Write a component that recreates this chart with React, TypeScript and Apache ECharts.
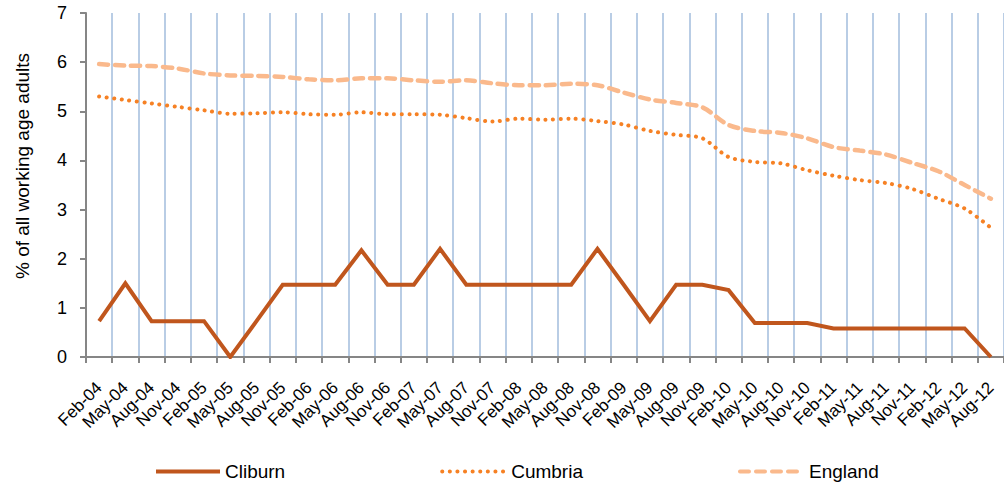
import React, { useEffect, useRef } from "react";
import * as echarts from "echarts";

const categories = [
  "Feb-04", "May-04", "Aug-04", "Nov-04",
  "Feb-05", "May-05", "Aug-05", "Nov-05",
  "Feb-06", "May-06", "Aug-06", "Nov-06",
  "Feb-07", "May-07", "Aug-07", "Nov-07",
  "Feb-08", "May-08", "Aug-08", "Nov-08",
  "Feb-09", "May-09", "Aug-09", "Nov-09",
  "Feb-10", "May-10", "Aug-10", "Nov-10",
  "Feb-11", "May-11", "Aug-11", "Nov-11",
  "Feb-12", "May-12", "Aug-12",
];

const cliburn = [
  0.73, 1.5, 0.73, 0.73,
  0.73, 0, 0.73, 1.47,
  1.47, 1.47, 2.17, 1.47,
  1.47, 2.2, 1.47, 1.47,
  1.47, 1.47, 1.47, 2.2,
  1.47, 0.73, 1.47, 1.47,
  1.36, 0.69, 0.69, 0.69,
  0.58, 0.58, 0.58, 0.58,
  0.58, 0.58, 0,
];

const cumbria = [
  5.3, 5.23, 5.16, 5.09,
  5.02, 4.95, 4.96, 4.98,
  4.94, 4.93, 4.98, 4.94,
  4.94, 4.93, 4.86, 4.79,
  4.85, 4.83, 4.85, 4.8,
  4.73, 4.6, 4.52, 4.45,
  4.07, 3.97, 3.94, 3.8,
  3.69, 3.6, 3.54, 3.42,
  3.22, 3.02, 2.63,
];

const england = [
  5.96, 5.93, 5.92, 5.87,
  5.77, 5.73, 5.72, 5.7,
  5.65, 5.63, 5.67, 5.67,
  5.63, 5.6, 5.63, 5.57,
  5.53, 5.53, 5.56, 5.53,
  5.38, 5.24, 5.17, 5.08,
  4.72, 4.6, 4.56, 4.45,
  4.27, 4.2, 4.12, 3.95,
  3.78, 3.5, 3.22,
];

const yTicks = [0, 1, 2, 3, 4, 5, 6, 7];
const yTitle = "% of all working age adults";

export default function App() {
  const ref = useRef<HTMLDivElement>(null);
  useEffect(() => {
    if (!ref.current) return;
    const chart = echarts.init(ref.current, null, { renderer: "svg" });
    const font = "'Liberation Sans', Arial, sans-serif";
    chart.setOption({
      animation: false,
      backgroundColor: "#ffffff",
      textStyle: { fontFamily: font },
      grid: { left: 86, top: 13, width: 919, height: 344, containLabel: false },
      legend: {
        left: 149,
        top: 457,
        itemWidth: 64,
        itemHeight: 14,
        itemGap: 155,
        itemStyle: { opacity: 0 },
        lineStyle: { width: 4 },
        textStyle: { fontSize: 19, color: "#000", fontFamily: font },
        data: ["Cliburn", "Cumbria", "England"],
      },
      graphic: [
        {
          type: "text",
          x: 22,
          y: 166,
          rotation: Math.PI / 2,
          style: {
            text: yTitle,
            fontSize: 19,
            fontFamily: font,
            fill: "#000",
            align: "center",
            verticalAlign: "middle",
          },
        },
      ],
      xAxis: {
        type: "category",
        data: categories,
        boundaryGap: true,
        axisLine: { show: true, lineStyle: { color: "#868686", width: 2 } },
        axisTick: { show: true, length: 6, lineStyle: { color: "#868686", width: 2 } },
        splitLine: { show: true, lineStyle: { color: "#B9CDE5", width: 2 } },
        axisLabel: {
          rotate: 45,
          interval: 0,
          margin: 28,
          fontSize: 17,
          color: "#000",
          fontFamily: font,
        },
      },
      yAxis: {
        type: "value",
        min: yTicks[0],
        max: yTicks[yTicks.length - 1],
        interval: 1,
        axisLine: { show: true, lineStyle: { color: "#868686", width: 2 } },
        axisTick: { show: true, length: 6, lineStyle: { color: "#868686", width: 2 } },
        splitLine: { show: false },
        axisLabel: { fontSize: 18, color: "#000", margin: 19, fontFamily: font },
      },
      series: [
        {
          name: "Cliburn",
          type: "line",
          data: cliburn,
          symbol: "none",
          color: "#C0561D",
          lineStyle: { color: "#C0561D", width: 4, join: "miter" },
          z: 5,
        },
        {
          name: "Cumbria",
          type: "line",
          data: cumbria,
          symbol: "none",
          smooth: 0.3,
          color: "#F68124",
          lineStyle: { color: "#F68124", width: 4, type: [0.1, 7.5], cap: "round" },
          z: 4,
        },
        {
          name: "England",
          type: "line",
          data: england,
          symbol: "none",
          smooth: 0.3,
          color: "#FAB98C",
          lineStyle: { color: "#FAB98C", width: 4.5, type: [9, 7], cap: "round" },
          z: 3,
        },
      ],
    });
    return () => chart.dispose();
  }, []);
  return <div ref={ref} style={{ width: 1004, height: 488, position: "absolute", left: 0, top: 0 }} />;
}
